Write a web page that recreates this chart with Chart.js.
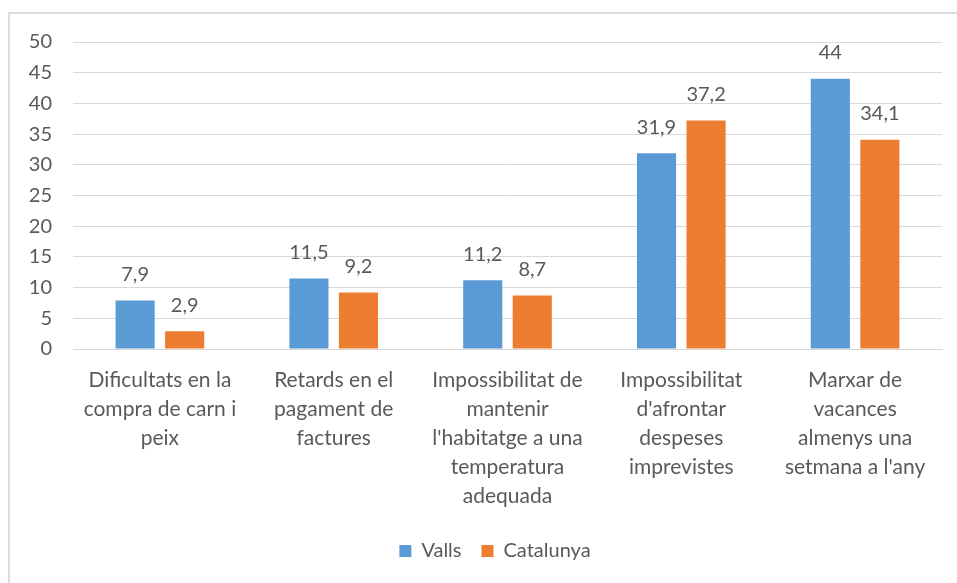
<!DOCTYPE html>
<html>
<head>
<meta charset="utf-8">
<script src="https://cdn.jsdelivr.net/npm/chart.js@4"></script>
<style>
  html, body { margin: 0; padding: 0; background: #fff; }
  #wrap { position: relative; width: 957px; height: 583px; overflow: hidden; }
  #frame { position: absolute; left: 8px; top: 12px; width: 1000px; height: 700px; border: 2px solid #dcdcdc; box-sizing: border-box; pointer-events: none; }
  canvas { position: absolute; left: 0; top: 0; }
</style>
</head>
<body>
<div id="wrap">
  <canvas id="c" width="957" height="583"></canvas>
  <div id="frame"></div>
</div>
<script>
const categories = [
  ["Dificultats en la", "compra de carn i", "peix"],
  ["Retards en el", "pagament de", "factures"],
  ["Impossibilitat de", "mantenir", "l'habitatge a una", "temperatura", "adequada"],
  ["Impossibilitat", "d'afrontar", "despeses", "imprevistes"],
  ["Marxar de", "vacances", "almenys una", "setmana a l'any"]
];
const seriesNames = ["Valls", "Catalunya"];
const valls = [7.9, 11.5, 11.2, 31.9, 44];
const catalunya = [2.9, 9.2, 8.7, 37.2, 34.1];
const yTicks = { min: 0, max: 50, step: 5 };

const FONT = "Lato, 'Liberation Sans', Arial, sans-serif";
const TEXT = "#595959";

const dataLabels = {
  id: 'dataLabels',
  afterDatasetsDraw(chart) {
    const ctx = chart.ctx;
    ctx.save();
    ctx.font = "20px " + FONT;
    ctx.fillStyle = TEXT;
    ctx.textAlign = 'center';
    ctx.textBaseline = 'middle';
    chart.data.datasets.forEach((ds, i) => {
      const meta = chart.getDatasetMeta(i);
      meta.data.forEach((bar, j) => {
        const v = ds.data[j];
        ctx.fillText(String(v).replace('.', ','), bar.x, bar.y - 26);
      });
    });
    ctx.restore();
  }
};

const legendShift = {
  id: 'legendShift',
  afterLayout(chart) {
    if (chart.legend) { chart.legend.left += 48; }
  }
};

new Chart(document.getElementById('c'), {
  type: 'bar',
  data: {
    labels: categories,
    datasets: [
      { label: seriesNames[0], data: valls, backgroundColor: '#5B9BD5' },
      { label: seriesNames[1], data: catalunya, backgroundColor: '#ED7D31' }
    ]
  },
  options: {
    responsive: false,
    animation: false,
    devicePixelRatio: 1,
    layout: { padding: { left: 0, right: 15, top: 42, bottom: 12 } },
    datasets: { bar: { categoryPercentage: 0.57, barPercentage: 0.79 } },
    scales: {
      x: {
        grid: { display: false, drawTicks: false },
        border: { display: true, color: '#d9d9d9', width: 1 },
        ticks: { color: TEXT, font: { family: FONT, size: 21, lineHeight: 1.38 }, padding: 17, maxRotation: 0, autoSkip: false },
        afterFit(scale) { scale.height = 172; }
      },
      y: {
        min: yTicks.min, max: yTicks.max,
        grid: { color: '#d9d9d9', drawTicks: false },
        border: { display: false },
        ticks: { stepSize: yTicks.step, color: TEXT, font: { family: FONT, size: 20 }, padding: 21 },
        afterFit(scale) { scale.width = 73; }
      }
    },
    plugins: {
      legend: {
        position: 'bottom',
        labels: { color: TEXT, font: { family: FONT, size: 20 }, boxWidth: 12, boxHeight: 12, padding: 20 }
      },
      tooltip: { enabled: false }
    }
  },
  plugins: [dataLabels, legendShift]
});
</script>
</body>
</html>
